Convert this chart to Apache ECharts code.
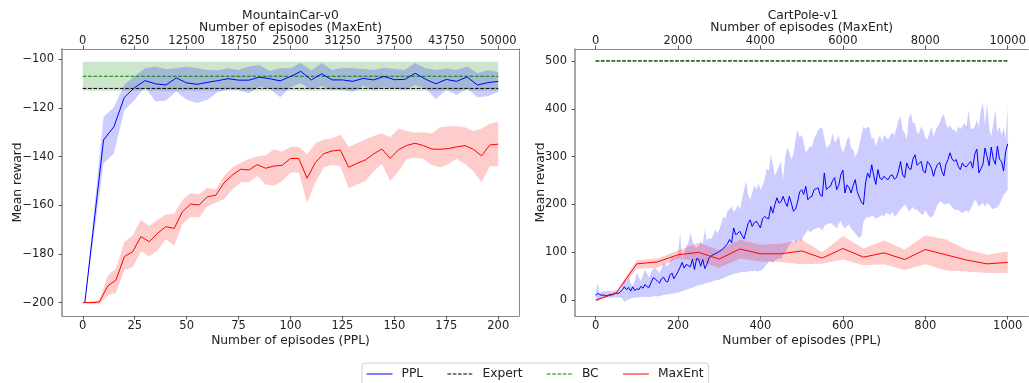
<!DOCTYPE html>
<html><head><meta charset="utf-8">
<script src="https://cdn.jsdelivr.net/npm/echarts@6/dist/echarts.min.js"></script>
<style>html,body{margin:0;padding:0;background:#fff}#c{width:1029px;height:383px}</style>
</head><body><div id="c"></div>
<script>
// ---------- MountainCar-v0 (left) ----------
const mcTitle = 'MountainCar-v0';
const mcBottomTicks = [0, 25, 50, 75, 100, 125, 150, 175, 200];
const mcTopTicks = [0, 6250, 12500, 18750, 25000, 31250, 37500, 43750, 50000];
const mcYTicks = [-200, -180, -160, -140, -120, -100];

const mcPPL_x = [1,10,15,20,25,30,35,40,45,50,55,60,65,70,75,80,85,90,95,100,105,110,115,120,125,130,135,140,145,150,155,160,165,170,175,180,185,190,195,200];
const mcPPL = [-200,-133.2,-127.7,-115.7,-111.6,-108.8,-110.1,-110.6,-107.7,-109.7,-110.3,-109.5,-108.8,-108,-108.6,-108.6,-107.4,-108,-108.9,-107.1,-105,-108.5,-106,-108.5,-108.5,-109.1,-107.9,-108.5,-107.1,-108.4,-108.3,-105.8,-108.2,-110.1,-108.3,-109.1,-107.3,-110.6,-109.6,-109.1];
const mcPPL_up = [-200,-123.6,-119.7,-110.5,-106.9,-103.7,-103,-104.1,-103.7,-103,-103.7,-104.4,-104.5,-103.7,-104.4,-103,-102.4,-104.8,-103.7,-103.7,-101.6,-104.6,-101.6,-104.4,-103.5,-103.7,-104,-104.4,-103.5,-104,-104.4,-101.6,-103.7,-104.4,-103.8,-104.4,-103,-105.8,-104.4,-105.2];
const mcPPL_lo = [-200,-142.8,-138.6,-121,-116.7,-111.5,-117.4,-117,-113.3,-116.7,-118,-116.7,-113.5,-112.3,-112.6,-114,-111.3,-112,-115.6,-111.5,-109.9,-112.6,-111,-112.5,-112.5,-113.5,-111,-112.6,-111.5,-112,-112.5,-110.7,-112,-116.4,-112.5,-114.7,-112,-115.6,-115.2,-113.5];

const mcME_x = [0,4,8,12,16,20,24,28,32,36,40,44,48,52,56,60,64,68,72,76,80,84,88,92,96,100,104,108,112,116,120,124,128,132,136,140,144,148,152,156,160,164,168,172,176,180,184,188,192,196,200];
const mcME = [-200,-200,-199.7,-193.2,-190.7,-181.1,-179.1,-172.9,-175,-171.5,-168.8,-169.5,-162.6,-159.5,-159.9,-156.5,-155.9,-150.8,-147.6,-145.2,-145.5,-143.3,-144.8,-143.9,-143.6,-140.8,-140.8,-148.9,-142.4,-138.8,-137.7,-137.3,-144.4,-142.8,-141.4,-138.9,-136.9,-140.7,-137.2,-135.4,-134.5,-135.5,-136.9,-137,-136.7,-136,-135.5,-137,-139.7,-135.2,-134.9];
const mcME_up = [-199.7,-199.5,-199,-189,-186,-175,-172.5,-166,-168.5,-166,-163.8,-163.5,-157.8,-155,-155.5,-152.8,-153.5,-148,-144.5,-142.5,-141,-140,-139.5,-137,-138,-136,-136,-139,-134.5,-133,-132.5,-131,-136,-134.5,-133,-131.5,-130.5,-132,-128.5,-129.5,-130.2,-130,-130.5,-128,-127.5,-127.5,-128,-129.5,-128.5,-126.5,-125.7];
const mcME_lo = [-200.3,-200.5,-200.8,-197,-196,-186.6,-185.5,-179,-181,-178.5,-174,-176.5,-167.7,-164.7,-165,-160.5,-159,-157.5,-153.5,-150.5,-150.5,-148,-151.5,-152,-150,-146.5,-146.5,-159,-150.5,-144.5,-143.5,-144,-153,-151.5,-150,-146,-143,-150,-146,-141,-140.5,-141,-143.5,-144.5,-143,-141,-143,-146,-150.5,-144,-144];

const mcRange = [0, 200];
const mcExpert = -112;
const mcBC = -107;
const mcBC_std = 6;

// ---------- CartPole-v1 (right) ----------
const cpTitle = 'CartPole-v1';
const cpBottomTicks = [0, 200, 400, 600, 800, 1000];
const cpTopTicks = [0, 2000, 4000, 6000, 8000, 10000];
const cpYTicks = [0, 100, 200, 300, 400, 500];

const cpPPL_x = [0,5,10,15,20,25,30,35,40,45,50,55,60,65,70,75,80,85,90,95,100,105,110,115,120,125,130,135,140,145,150,155,160,165,170,175,180,185,190,195,200,205,210,215,220,225,230,235,240,245,250,255,260,265,270,275,280,285,290,295,300,305,310,315,320,325,330,335,340,345,350,355,360,365,370,375,380,385,390,395,400,405,410,415,420,425,430,435,440,445,450,455,460,465,470,475,480,485,490,495,500,505,510,515,520,525,530,535,540,545,550,555,560,565,570,575,580,585,590,595,600,605,610,615,620,625,630,635,640,645,650,655,660,665,670,675,680,685,690,695,700,705,710,715,720,725,730,735,740,745,750,755,760,765,770,775,780,785,790,795,800,805,810,815,820,825,830,835,840,845,850,855,860,865,870,875,880,885,890,895,900,905,910,915,920,925,930,935,940,945,950,955,960,965,970,975,980,985,990,995,1000];
const cpPPL = [10,14,12,10,11,9,10,12,11,13,
15,14,17,22,28,22,27,19,28,20,
24,22,29,25,33,28,27,38,47,44,
40,36,45,48,40,38,52,57,45,52,
60,69,79,67,75,72,70,86,64,87,
86,71,85,66,75,88,92,95,97,99,
102,104,108,113,118,127,120,151,137,140,
144,136,128,144,160,168,154,162,165,158,
151,170,175,172,170,196,182,200,214,203,
206,217,205,196,217,203,186,190,205,226,
231,221,238,210,215,217,231,233,235,220,
217,266,231,236,238,250,256,231,240,262,
272,224,241,236,224,240,252,227,215,205,
200,245,266,256,283,260,242,273,255,252,
259,254,252,260,262,253,256,270,290,262,
256,287,276,273,295,304,282,286,290,270,
266,290,285,276,259,275,284,288,270,260,
284,294,308,295,290,294,280,273,287,280,
279,285,290,276,305,316,266,275,284,318,
300,281,320,295,284,322,295,290,270,311,
327];
const cpPPL_up = [15,36,14,18,19,18,19,20,18,19,
20,21,22,30,43,38,50,35,29,40,
58,48,40,52,64,55,47,60,65,68,
62,57,66,79,74,71,80,92,88,92,
95,141,85,100,113,120,141,125,113,110,
113,123,118,148,125,130,128,135,148,140,
148,160,175,170,186,190,196,185,189,200,
189,210,230,249,220,210,225,240,231,245,
231,240,252,276,270,304,285,260,270,280,
290,252,300,318,310,294,305,335,357,340,
346,330,308,315,322,320,339,345,355,360,
360,340,318,322,329,349,330,335,346,320,
308,320,336,342,318,315,300,308,325,345,
363,358,363,360,336,340,322,335,346,330,
346,340,336,345,350,345,360,377,384,355,
350,336,380,391,370,371,349,350,363,355,
340,336,350,363,342,355,363,370,384,388,
370,360,365,357,356,350,363,358,363,370,
363,398,360,357,363,377,363,398,412,365,
412,360,342,370,398,352,363,345,360,340,
404];
const cpPPL_lo = [5,-5,1,4,5,5,6,5,5,5,
6,5,6,3,-4,0,1,4,5,5,
5,6,7,7,6,7,6,8,8,9,
8,9,10,11,12,12,13,14,14,15,
16,17,19,20,22,23,25,26,28,30,
31,32,33,35,36,37,38,40,41,42,
43,45,46,48,50,52,53,55,56,57,
58,60,59,58,60,61,60,62,61,60,
62,64,70,75,80,82,78,84,85,88,
85,95,100,108,115,120,127,120,125,127,
123,135,140,148,142,145,148,150,152,150,
145,155,158,160,162,158,155,150,160,165,
155,150,155,158,150,145,140,134,130,134,
165,170,175,172,178,175,170,173,175,178,
175,183,180,178,185,175,178,185,190,195,
200,195,185,190,195,189,190,185,180,178,
189,180,175,173,178,190,200,207,205,200,
200,203,200,195,190,188,189,185,183,185,
188,183,190,200,210,205,195,200,203,196,
203,200,193,190,193,194,200,210,220,225,
231];

const cpME_x = [0,50,100,150,200,250,300,350,400,450,500,550,600,650,700,750,800,850,900,950,1000];
const cpME = [0,15,76,80,95,100,86,107,97,97,103,88,108,90,99,85,106,95,84,76,79];
const cpME_up = [1,18,84,87,104,120,105,127,116,118,127,100,134,108,125,106,136,127,106,95,102];
const cpME_lo = [-1,13,66,68,87,82,68,87,81,80,75,76,85,73,75,63,75,62,60,57,57];

const cpRange = [0, 1000];
const cpExpert = 500;
const cpBC = 500;
const cpBC_std = 0;

// ---------- styling ----------
const FONT = 'DejaVu Sans';
const TXT = '#222';
const SPINE = '#8a8a8a';
const C_PPL = '#0000ff', C_ME = '#ff0000', C_BC = '#008000', C_EXP = '#000000';
const F_PPL = 'rgba(0,0,255,0.2)', F_ME = 'rgba(255,0,0,0.2)', F_BC = 'rgba(0,128,0,0.2)';

const fmt = v => String(v).replace('-', '\u2212');

function xAxisCfg(gridIndex, position, min, max, ticks, name, nameGap, labelMargin) {
  return {
    type: 'value', gridIndex, position, min, max, name,
    nameLocation: 'middle', nameGap, nameMoveOverlap: false,
    nameTextStyle: { fontFamily: FONT, fontSize: 12.3, color: TXT },
    axisLine: { show: true, onZero: false, lineStyle: { color: SPINE, width: 1 } },
    axisTick: { show: true, length: 3.5, customValues: ticks, lineStyle: { color: '#555', width: 1 } },
    axisLabel: { customValues: ticks, fontFamily: FONT, fontSize: 11.5, color: TXT, margin: labelMargin, formatter: fmt },
    splitLine: { show: false }
  };
}
function yAxisCfg(gridIndex, min, max, ticks, name, nameGap) {
  return {
    type: 'value', gridIndex, position: 'left', min, max, name,
    nameLocation: 'middle', nameGap, nameRotate: 90, nameMoveOverlap: false,
    nameTextStyle: { fontFamily: FONT, fontSize: 12.3, color: TXT },
    axisLine: { show: true, onZero: false, lineStyle: { color: SPINE, width: 1.5 } },
    axisTick: { show: true, length: 3.5, customValues: ticks, lineStyle: { color: '#555', width: 1 } },
    axisLabel: { customValues: ticks, fontFamily: FONT, fontSize: 11.5, color: TXT, margin: 8, formatter: fmt },
    splitLine: { show: false }
  };
}

function band(name, xs, lo, up, fill, xi, yi) {
  return {
    type: 'custom', name, xAxisIndex: xi, yAxisIndex: yi, silent: true, z: 1,
    data: xs.map((x, i) => [x, lo[i], up[i]]),
    encode: { x: 0, y: [1, 2] },
    renderItem: function (params, api) {
      if (params.dataIndex !== 0) return null;
      const pts = [];
      for (let i = 0; i < xs.length; i++) pts.push(api.coord([xs[i], up[i]]));
      for (let i = xs.length - 1; i >= 0; i--) pts.push(api.coord([xs[i], lo[i]]));
      return { type: 'polygon', shape: { points: pts }, style: { fill: fill, stroke: null } };
    }
  };
}
function line(name, xs, ys, color, dashed, xi, yi, z) {
  return {
    type: 'line', name, xAxisIndex: xi, yAxisIndex: yi, z: z || 3,
    data: xs.map((x, i) => [x, ys[i]]),
    symbol: 'none', showSymbol: false, animation: false,
    lineStyle: { color, width: 1, type: dashed ? [3.7, 1.6] : 'solid' },
    itemStyle: { color }
  };
}

const chart = echarts.init(document.getElementById('c'), null, { renderer: 'canvas' });
chart.setOption({
  animation: false,
  backgroundColor: '#fff',
  textStyle: { fontFamily: FONT },
  graphic: [
    { type: 'text', x: 290.5, y: 15.5, style: { text: mcTitle, font: '12.3px "DejaVu Sans"', fill: TXT, align: 'center', verticalAlign: 'middle' } },
    { type: 'text', x: 803, y: 15.5, style: { text: cpTitle, font: '12.3px "DejaVu Sans"', fill: TXT, align: 'center', verticalAlign: 'middle' } }
  ],
  legend: {
    data: ['PPL', 'Expert', 'BC', 'MaxEnt'],
    left: 362, top: 363,
    orient: 'horizontal',
    itemWidth: 26, itemHeight: 14, itemGap: 23.7,
    padding: [5, 5, 8, 4],
    borderColor: '#d0d0d0', borderWidth: 1, borderRadius: 3,
    backgroundColor: '#fff',
    itemStyle: { opacity: 0 },
    lineStyle: { width: 1 },
    textStyle: { fontFamily: FONT, fontSize: 12.3, color: TXT, padding: [0, 0, 0, 4] }
  },
  grid: [
    { left: 62, right: 510, top: 49, bottom: 67, containLabel: false },
    { left: 575, right: -2, top: 49, bottom: 67, containLabel: false }
  ],
  xAxis: [
    xAxisCfg(0, 'bottom', -10, 210, mcBottomTicks, 'Number of episodes (PPL)', 18.5, 4),
    xAxisCfg(0, 'top', -2500, 52500, mcTopTicks, 'Number of episodes (MaxEnt)', 15, 2),
    xAxisCfg(1, 'bottom', -50, 1050, cpBottomTicks, 'Number of episodes (PPL)', 18.5, 4),
    xAxisCfg(1, 'top', -500, 10500, cpTopTicks, 'Number of episodes (MaxEnt)', 15, 2)
  ],
  yAxis: [
    yAxisCfg(0, -205.5, -95.8, mcYTicks, 'Mean reward', 38),
    yAxisCfg(1, -33, 525, cpYTicks, 'Mean reward', 28),
    { type: 'value', gridIndex: 0, position: 'right', min: -205.5, max: -95.8,
      axisLine: { show: true, onZero: false, lineStyle: { color: SPINE, width: 1 } },
      axisTick: { show: false }, axisLabel: { show: false }, splitLine: { show: false } }
  ],
  series: [
    // left panel
    band('BC band L', mcRange, [mcBC - mcBC_std, mcBC - mcBC_std], [mcBC + mcBC_std, mcBC + mcBC_std], F_BC, 0, 0),
    band('PPL band L', mcPPL_x, mcPPL_lo, mcPPL_up, F_PPL, 0, 0),
    band('MaxEnt band L', mcME_x, mcME_lo, mcME_up, F_ME, 0, 0),
    line('PPL', mcPPL_x, mcPPL, C_PPL, false, 0, 0, 4),
    line('Expert', mcRange, [mcExpert, mcExpert], C_EXP, true, 0, 0),
    line('BC', mcRange, [mcBC, mcBC], C_BC, true, 0, 0),
    line('MaxEnt', mcME_x, mcME, C_ME, false, 0, 0, 4),
    // right panel
    band('PPL band R', cpPPL_x, cpPPL_lo, cpPPL_up, F_PPL, 2, 1),
    band('MaxEnt band R', cpME_x, cpME_lo, cpME_up, F_ME, 2, 1),
    band('BC band R', cpRange, [cpBC - cpBC_std, cpBC - cpBC_std], [cpBC + cpBC_std, cpBC + cpBC_std], F_BC, 2, 1),
    line('PPL', cpPPL_x, cpPPL, C_PPL, false, 2, 1, 4),
    line('Expert', cpRange, [cpExpert, cpExpert], C_EXP, true, 2, 1),
    line('BC', cpRange, [cpBC, cpBC], C_BC, true, 2, 1),
    line('MaxEnt', cpME_x, cpME, C_ME, false, 2, 1, 4)
  ]
});
</script></body></html>
